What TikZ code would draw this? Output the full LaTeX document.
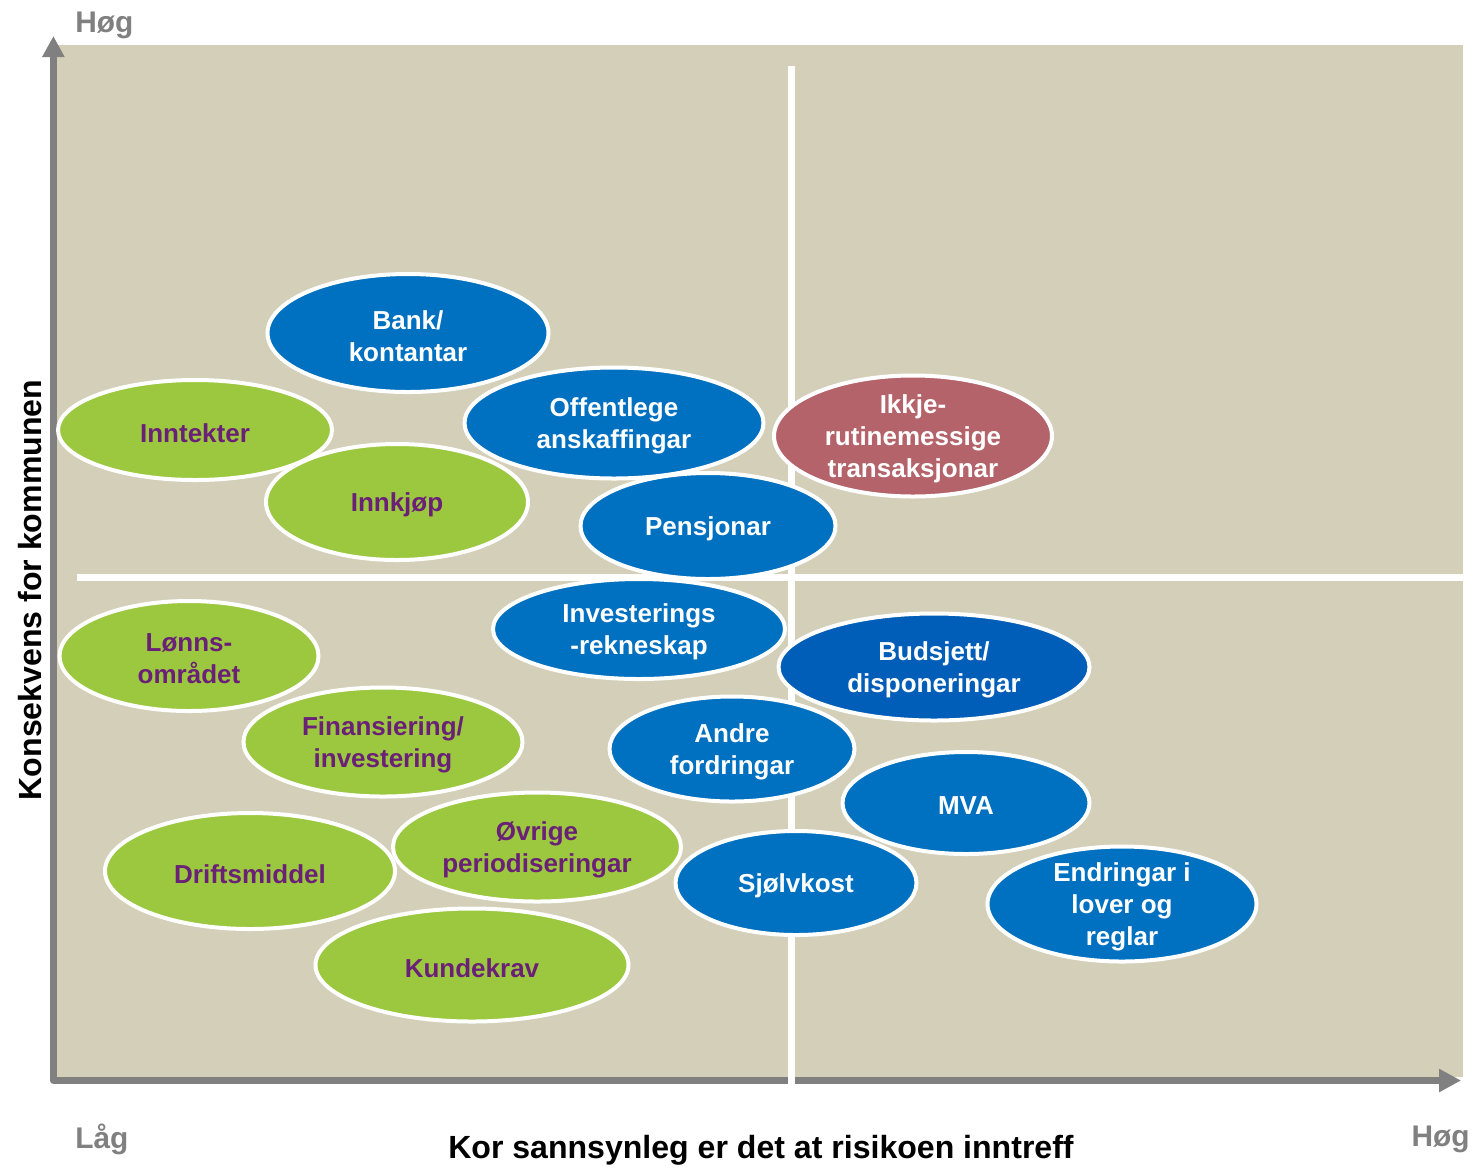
\documentclass[tikz,border=0pt]{standalone}
\usepackage{fontspec}
\setmainfont{Liberation Sans}
\usetikzlibrary{shapes.geometric,arrows.meta}
\newcommand\pxl{0.02cm}
\definecolor{beige}{HTML}{D4CFB9}
\definecolor{axisgrey}{HTML}{808080}
\definecolor{riskblue}{HTML}{0070C0}
\definecolor{riskdblue}{HTML}{005DB8}
\definecolor{riskgreen}{HTML}{9BC83F}
\definecolor{riskred}{HTML}{B5636A}
\definecolor{riskpurple}{HTML}{6B2077}
\tikzset{
  ell/.style={ellipse, draw=white, line width=4*\pxl, inner sep=0pt},
  blueell/.style={ell, fill=riskblue},
  dblueell/.style={ell, fill=riskdblue},
  greenell/.style={ell, fill=riskgreen},
  redell/.style={ell, fill=riskred},
  sz/.style 2 args={minimum width=#1*\pxl, minimum height=#2*\pxl},
  etext/.style={align=center, inner sep=0pt, yshift=-3*\pxl, font=\bfseries\fontsize{14.8pt}{18.14pt}\selectfont},
  wtxt/.style={etext, text=white},
  ptxt/.style={etext, text=riskpurple},
  greylab/.style={text=axisgrey, inner sep=0pt, font=\bfseries\fontsize{17pt}{20pt}\selectfont},
  axlab/.style={text=black, inner sep=0pt, font=\bfseries\fontsize{18.25pt}{21pt}\selectfont},
}
\begin{document}
\begin{tikzpicture}[x=0.02cm, y=-0.02cm]
\useasboundingbox (0,0) rectangle (1483,1167);
% background panel
\fill[beige] (55,45) rectangle (1463,1077);
% quadrant lines
\coordinate (vtop) at (791.5,66);
\coordinate (vbot) at (791.5,1086);
\coordinate (hleft) at (77,577.5);
\coordinate (hright) at (1463,577.5);
% axes
\coordinate (ytip) at (53.4,36);
\coordinate (origin) at (53.4,1080.5);
\coordinate (xtip) at (1461,1080.5);
\draw[axisgrey, line width=7*\pxl, line join=round,
  {Triangle[width=21*\pxl,length=21*\pxl]}-{Triangle[width=22*\pxl,length=22*\pxl]}]
  (ytip) -- (origin) -- (xtip);
\draw[white, line width=7*\pxl] (vtop) -- (vbot);
\draw[white, line width=7*\pxl] (hleft) -- (hright);
% labels
\node[greylab, anchor=west] (hogy) at (75,25) {Høg};
\node[greylab, anchor=west] (lag) at (75,1139) {Låg};
\node[greylab, anchor=east] (hogx) at (1470,1139) {Høg};
\node[axlab] (xlab) at (761,1150) {Kor sannsynleg er det at risikoen inntreff};
\node[axlab, rotate=90] (ylab) at (30,590) {Konsekvens for kommunen};
% ellipses
\node[blueell, sz={281}{118}] (bank) at (408,333) {};
\node[wtxt] at (bank) {Bank/\\kontantar};
\node[greenell, sz={274}{100}] (inntekter) at (195,430) {};
\node[ptxt] at (inntekter) {Inntekter};
\node[blueell, sz={299}{111}] (offentlege) at (614,423) {};
\node[wtxt] at (offentlege) {Offentlege\\anskaffingar};
\node[redell, sz={278}{121}] (ikkje) at (913,436) {};
\node[wtxt] at (ikkje) {Ikkje-\\rutinemessige\\transaksjonar};
\node[greenell, sz={262}{116}] (innkjop) at (397,502) {};
\node[ptxt] at (innkjop) {Innkjøp};
\node[blueell, sz={255}{106}] (pensjonar) at (708,526) {};
\node[wtxt] at (pensjonar) {Pensjonar};
\node[blueell, sz={292}{100}] (investerings) at (639,629) {};
\node[wtxt] at (investerings) {Investerings\\-rekneskap};
\node[greenell, sz={259}{110}] (lonns) at (189,656) {};
\node[ptxt] at (lonns) {Lønns-\\området};
\node[dblueell, sz={311}{107}] (budsjett) at (934,667) {};
\node[wtxt] at (budsjett) {Budsjett/\\disponeringar};
\node[greenell, sz={279}{109}] (finansiering) at (383,742) {};
\node[ptxt] at (finansiering) {Finansiering/\\investering};
\node[blueell, sz={245}{105}] (andre) at (732,749) {};
\node[wtxt] at (andre) {Andre\\fordringar};
\node[blueell, sz={247}{102}] (mva) at (966,803) {};
\node[wtxt] at (mva) {MVA};
\node[greenell, sz={288}{109}] (ovrige) at (537,847) {};
\node[ptxt] at (ovrige) {Øvrige\\periodiseringar};
\node[greenell, sz={290}{116}] (drift) at (250,871) {};
\node[ptxt] at (drift) {Driftsmiddel};
\node[blueell, sz={241}{104}] (sjolvkost) at (796,883) {};
\node[wtxt] at (sjolvkost) {Sjølvkost};
\node[blueell, sz={269}{115}] (endringar) at (1122,904) {};
\node[wtxt] at (endringar) {Endringar i\\lover og\\reglar};
\node[greenell, sz={313}{113}] (kundekrav) at (472,965) {};
\node[ptxt] at (kundekrav) {Kundekrav};
\end{tikzpicture}
\end{document}
